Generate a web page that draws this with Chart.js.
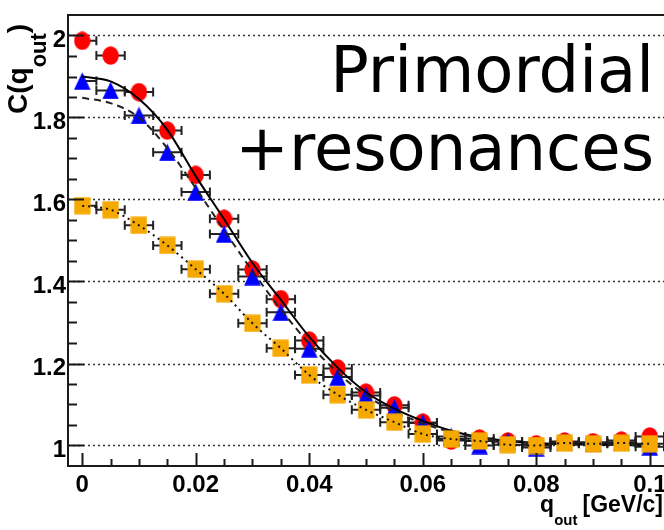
<!DOCTYPE html>
<html>
<head>
<meta charset="utf-8">
<script src="https://cdn.jsdelivr.net/npm/chart.js@4.4.1/dist/chart.umd.min.js"></script>
<style>
  html, body { margin: 0; padding: 0; background: #fff; overflow: hidden; }
  #wrap { width: 664px; height: 530px; position: relative; }
  #cf { display: block; width: 664px; height: 530px; }
</style>
</head>
<body>
<div id="wrap"><canvas id="cf" width="664" height="530"></canvas></div>
<script>
// q_out bin centres [GeV/c]
const qOut = [0, 0.005, 0.01, 0.015, 0.02, 0.025, 0.03, 0.035, 0.04, 0.045, 0.05,
              0.055, 0.06, 0.065, 0.07, 0.075, 0.08, 0.085, 0.09, 0.095, 0.1];
// half width of each q_out bin (horizontal error bars)
const qHalfBin = 0.0025;

// correlation function values
const cCircles   = [1.987, 1.951, 1.862, 1.768, 1.660, 1.553, 1.429, 1.357, 1.256, 1.188, 1.129,
                    1.098, 1.056, 1.012, 1.017, 1.010, 1.003, 1.010, 1.008, 1.012, 1.022];
const cTriangles = [1.889, 1.866, 1.805, 1.715, 1.618, 1.516, 1.412, 1.325, 1.236, 1.167, 1.122,
                    1.092, 1.055, 1.022, 1.000, 1.010, 0.995, 1.008, 1.006, 1.008, 0.997];
const cSquares   = [1.585, 1.575, 1.537, 1.488, 1.430, 1.370, 1.298, 1.237, 1.172, 1.124, 1.087,
                    1.057, 1.028, 1.016, 1.011, 1.002, 1.000, 1.006, 1.004, 1.006, 1.004];

// fit curves sampled on the same q_out grid
const fitSolid   = [1.900, 1.888, 1.845, 1.770, 1.657, 1.552, 1.445, 1.355, 1.265, 1.190, 1.130,
                    1.090, 1.060, 1.036, 1.020, 1.011, 1.006, 1.003, 1.002, 1.001, 1.000];
const fitDashed  = [1.848, 1.835, 1.800, 1.725, 1.628, 1.525, 1.425, 1.332, 1.248, 1.178, 1.122,
                    1.083, 1.054, 1.033, 1.019, 1.011, 1.006, 1.003, 1.002, 1.001, 1.000];

// axis tick labels
const xTickLabels = [0, 0.02, 0.04, 0.06, 0.08, 0.1];
const yTickLabels = [1, 1.2, 1.4, 1.6, 1.8, 2];

const pts = vals => vals.map((v, i) => ({ x: qOut[i], y: v }));

function markerCanvas(w, h, paint) {
  const c = document.createElement('canvas');
  c.width = w; c.height = h;
  paint(c.getContext('2d'), w, h);
  return c;
}
const circleMarker = markerCanvas(17, 19, (g, w, h) => {
  g.fillStyle = '#ff0000';
  g.beginPath(); g.ellipse(w / 2, h / 2, w / 2 - 0.3, h / 2 - 0.3, 0, 0, Math.PI * 2); g.fill();
});
const triangleMarker = markerCanvas(17, 18, (g, w, h) => {
  g.fillStyle = '#0000ff';
  g.beginPath(); g.moveTo(w / 2, 0.2); g.lineTo(w - 0.2, h - 0.2); g.lineTo(0.2, h - 0.2); g.closePath(); g.fill();
});
const squareMarker = markerCanvas(17, 18, (g, w, h) => {
  g.fillStyle = '#f5a800';
  g.fillRect(0.4, 0.4, w - 0.8, h - 0.8);
});

// dotted horizontal grid + horizontal error bars, under the markers
const underlay = {
  id: 'underlay',
  beforeDatasetsDraw(chart) {
    const { ctx, chartArea: a, scales: { x, y } } = chart;
    ctx.save();
    ctx.strokeStyle = '#333';
    ctx.lineWidth = 1.6;
    ctx.setLineDash([2, 3]);
    yTickLabels.forEach(v => {
      const py = Math.round(y.getPixelForValue(v)) + 0.5;
      ctx.beginPath(); ctx.moveTo(a.left, py); ctx.lineTo(a.right, py); ctx.stroke();
    });
    ctx.setLineDash([]);
    ctx.beginPath(); ctx.rect(a.left, a.top, a.right - a.left, a.bottom - a.top); ctx.clip();
    ctx.strokeStyle = '#222';
    ctx.lineWidth = 2;
    [cCircles, cTriangles, cSquares].forEach(vals => {
      vals.forEach((v, i) => {
        const lo = x.getPixelForValue(Math.max(qOut[i] - qHalfBin, 0));
        const hi = x.getPixelForValue(qOut[i] + qHalfBin);
        const py = y.getPixelForValue(v);
        ctx.beginPath();
        ctx.moveTo(lo, py); ctx.lineTo(hi, py);
        ctx.moveTo(lo, py - 4.5); ctx.lineTo(lo, py + 4.5);
        ctx.moveTo(hi, py - 4.5); ctx.lineTo(hi, py + 4.5);
        ctx.stroke();
      });
    });
    ctx.restore();
  }
};

// frame, tick marks, axis titles and the caption
const overlay = {
  id: 'overlay',
  afterDraw(chart) {
    const { ctx, chartArea: a, scales: { x, y } } = chart;
    ctx.save();
    ctx.strokeStyle = '#1a1a1a';
    ctx.lineWidth = 2;
    // tick marks
    ctx.beginPath();
    for (let k = 0; k <= 22; k++) {
      const v = 0.95 + k * 0.05;
      if (v < y.min + 1e-6 || v > y.max - 1e-6) continue;
      const major = Math.abs(v * 5 - Math.round(v * 5)) < 1e-6;
      const py = Math.round(y.getPixelForValue(v)) + 0.5;
      ctx.moveTo(a.left, py); ctx.lineTo(a.left + (major ? 16 : 9), py);
    }
    for (let k = 0; k <= 20; k++) {
      const v = k * 0.005;
      const major = k % 4 === 0;
      const px = Math.round(x.getPixelForValue(v)) + 0.5;
      ctx.moveTo(px, a.bottom); ctx.lineTo(px, a.bottom - (major ? 13 : 7));
    }
    ctx.stroke();
    // frame
    ctx.beginPath();
    ctx.moveTo(a.right + 2, a.top); ctx.lineTo(a.left, a.top);
    ctx.lineTo(a.left, a.bottom); ctx.lineTo(a.right + 2, a.bottom);
    ctx.stroke();

    ctx.fillStyle = '#000';
    ctx.textBaseline = 'alphabetic';
    // x axis title: q_out [GeV/c], laid out from the right edge
    const big = 'bold 23px "Liberation Sans", Arial, sans-serif';
    const sub = 'bold 15px "Liberation Sans", Arial, sans-serif';
    ctx.textAlign = 'right';
    let cx = 663;
    ctx.font = big; ctx.fillText('[GeV/c]', cx, 512); cx -= ctx.measureText('[GeV/c]').width + 5;
    ctx.font = sub; ctx.fillText('out', cx, 525); cx -= ctx.measureText('out').width;
    ctx.font = big; ctx.fillText('q', cx, 512);
    ctx.textAlign = 'left';

    // y axis title: C(q_out)
    ctx.save();
    ctx.translate(27, 114);
    ctx.rotate(-Math.PI / 2);
    const yBig = 'bold 28px "Liberation Sans", Arial, sans-serif';
    const ySub = 'bold 22px "Liberation Sans", Arial, sans-serif';
    let cy = 0;
    ctx.font = yBig; ctx.fillText('C(q', cy, 0); cy += ctx.measureText('C(q').width;
    ctx.font = ySub; ctx.fillText('out', cy, 19); cy += ctx.measureText('out').width;
    ctx.font = yBig; ctx.fillText(')', cy, 0);
    ctx.restore();

    // caption
    ctx.font = '64px "DejaVu Sans", Verdana, sans-serif';
    ctx.textAlign = 'right';
    ctx.fillText('Primordial', 654, 92);
    ctx.fillText('+resonances', 654, 170);
    ctx.restore();
  }
};

new Chart(document.getElementById('cf'), {
  type: 'line',
  data: {
    datasets: [
      { data: pts(cCircles), showLine: false, pointStyle: circleMarker, order: 6 },
      { data: pts(cTriangles), showLine: false, pointStyle: triangleMarker, order: 5 },
      { data: pts(fitSolid), borderColor: '#000', borderWidth: 2, pointRadius: 0,
        cubicInterpolationMode: 'monotone', order: 4 },
      { data: pts(fitDashed), borderColor: '#222', borderWidth: 2, borderDash: [7, 5], pointRadius: 0,
        cubicInterpolationMode: 'monotone', order: 3 },
      { data: pts(cSquares), showLine: false, pointStyle: squareMarker, order: 2 },
      { data: pts(cSquares), borderColor: '#111', borderWidth: 2, borderDash: [2, 4], pointRadius: 0,
        cubicInterpolationMode: 'monotone', order: 1 }
    ]
  },
  options: {
    responsive: false,
    animation: false,
    devicePixelRatio: 1,
    events: [],
    layout: { padding: { top: 15, left: 0, right: 0, bottom: 0 }, autoPadding: false },
    plugins: { legend: { display: false }, tooltip: { enabled: false } },
    scales: {
      x: {
        type: 'linear', min: -0.0025, max: 0.1025,
        grid: { display: false, drawTicks: false }, border: { display: false },
        afterBuildTicks: s => { s.ticks = xTickLabels.map(v => ({ value: v })); },
        afterFit: s => { s.height = 64; s.paddingLeft = 0; s.paddingRight = 0; },
        ticks: { color: '#000', font: { family: '"Liberation Sans", Arial, sans-serif', size: 24, weight: 'bold' },
                 padding: 5, maxRotation: 0, autoSkip: false,
                 callback: v => String(+(+v).toFixed(3)) }
      },
      y: {
        type: 'linear', min: 0.95, max: 2.05,
        grid: { display: false, drawTicks: false }, border: { display: false },
        afterBuildTicks: s => { s.ticks = yTickLabels.map(v => ({ value: v })); },
        afterFit: s => { s.width = 68; s.paddingTop = 0; s.paddingBottom = 0; },
        ticks: { color: '#000', font: { family: '"Liberation Sans", Arial, sans-serif', size: 24, weight: 'bold' },
                 padding: 2, labelOffset: 5, autoSkip: false,
                 callback: v => String(+(+v).toFixed(2)) }
      }
    }
  },
  plugins: [underlay, overlay]
});
</script>
</body>
</html>
